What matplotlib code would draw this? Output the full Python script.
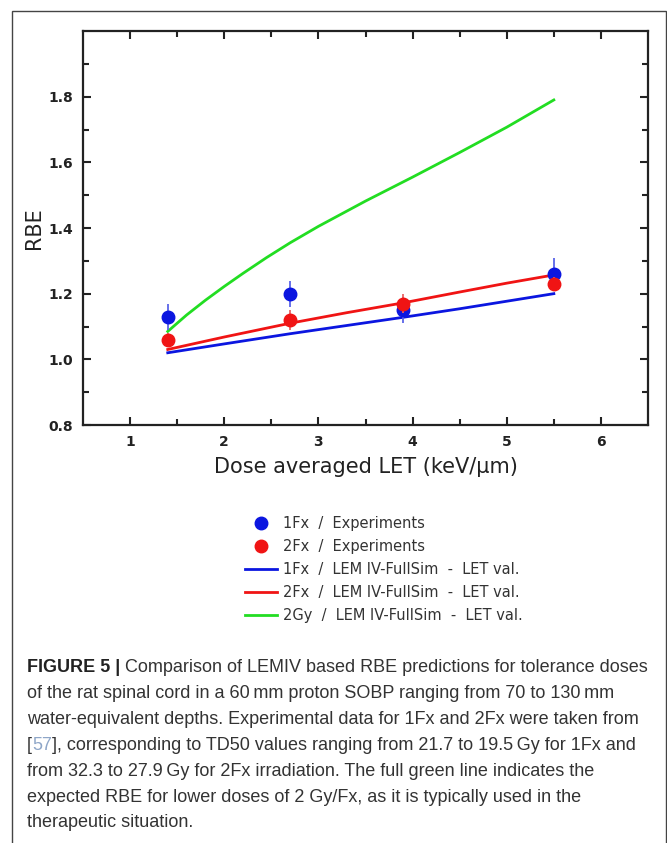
"""Recreate LEM IV RBE vs dose averaged LET figure with caption."""

import matplotlib
matplotlib.use("Agg")
import matplotlib.pyplot as plt
from matplotlib.lines import Line2D
from matplotlib.patches import Rectangle

# experimental points
let_exp = [1.4, 2.7, 3.9, 5.5]
rbe_1fx = [1.13, 1.20, 1.15, 1.26]
err_1fx = [0.04, 0.04, 0.04, 0.05]
rbe_2fx = [1.06, 1.12, 1.17, 1.23]
err_2fx = [0.02, 0.03, 0.03, 0.02]

# model curves (LEM IV-FullSim)
let_model = [1.4, 2.0, 2.7, 3.3, 3.9, 4.5, 5.0, 5.5]
model_1fx = [1.020, 1.047, 1.078, 1.103, 1.128, 1.154, 1.177, 1.200]
model_2fx = [1.030, 1.068, 1.110, 1.142, 1.172, 1.205, 1.232, 1.257]
let_2gy = [1.4, 1.6, 1.8, 2.0, 2.2, 2.45, 2.7, 3.0, 3.5, 4.0, 4.5, 5.0, 5.5]
model_2gy = [1.085, 1.135, 1.180, 1.222, 1.262, 1.310, 1.355, 1.405, 1.482,
             1.555, 1.630, 1.707, 1.790]

labels = [
    "1Fx  /  Experiments",
    "2Fx  /  Experiments",
    "1Fx  /  LEM IV-FullSim  -  LET val.",
    "2Fx  /  LEM IV-FullSim  -  LET val.",
    "2Gy  /  LEM IV-FullSim  -  LET val.",
]

caption = [
    [("FIGURE 5 | ", "bold", "#222222"),
     ("Comparison of LEMIV based RBE predictions for tolerance doses", "normal", "#333333")],
    [("of the rat spinal cord in a 60\u2009mm proton SOBP ranging from 70 to 130\u2009mm", "normal", "#333333")],
    [("water-equivalent depths. Experimental data for 1Fx and 2Fx were taken from", "normal", "#333333")],
    [("[", "normal", "#333333"), ("57", "normal", "#8ea6c8"),
     ("], corresponding to TD50 values ranging from 21.7 to 19.5\u2009Gy for 1Fx and", "normal", "#333333")],
    [("from 32.3 to 27.9\u2009Gy for 2Fx irradiation. The full green line indicates the", "normal", "#333333")],
    [("expected RBE for lower doses of 2 Gy/Fx, as it is typically used in the", "normal", "#333333")],
    [("therapeutic situation.", "normal", "#333333")],
]

BLUE = "#0b16e0"
RED = "#f01414"
GREEN = "#22dd22"

W, H = 667, 843
fig = plt.figure(figsize=(W / 100, H / 100), dpi=100)

# outer frame
fig.patches.append(Rectangle((12 / W, -0.01), 654 / W, 1 - 11 / H + 0.01,
                             transform=fig.transFigure, fill=False,
                             edgecolor="#444444", lw=1.0))

ax = fig.add_axes([83 / W, 1 - 425 / H, (648 - 83) / W, (425 - 31) / H])

ax.errorbar(let_exp, rbe_1fx, yerr=err_1fx, fmt="o", color=BLUE, ms=9,
            elinewidth=1.3, ecolor="#5a64e8", capsize=0, zorder=4)
ax.errorbar(let_exp, rbe_2fx, yerr=err_2fx, fmt="o", color=RED, ms=9,
            elinewidth=1.3, ecolor="#e86464", capsize=0, zorder=5)
ax.plot(let_model, model_1fx, color=BLUE, lw=2.0, zorder=3)
ax.plot(let_model, model_2fx, color=RED, lw=2.0, zorder=3)
ax.plot(let_2gy, model_2gy, color=GREEN, lw=2.0, zorder=3)

ax.set_xlim(0.5, 6.5)
ax.set_ylim(0.8, 2.0)
ax.set_xticks([1, 2, 3, 4, 5, 6])
ax.set_xticks([1.5, 2.5, 3.5, 4.5, 5.5], minor=True)
ax.set_yticks([0.8, 1.0, 1.2, 1.4, 1.6, 1.8])
ax.set_yticklabels(["0.8", "1.0", "1.2", "1.4", "1.6", "1.8"])
ax.set_yticks([0.9, 1.1, 1.3, 1.5, 1.7, 1.9], minor=True)
ax.tick_params(which="both", direction="in", top=True, right=True,
               width=1.5, color="#222222", labelsize=10, pad=7)
ax.tick_params(which="major", length=6)
ax.tick_params(which="minor", length=4)
for lab in ax.get_xticklabels() + ax.get_yticklabels():
    lab.set_fontweight("bold")
    lab.set_color("#222222")
for sp in ax.spines.values():
    sp.set_linewidth(1.6)
    sp.set_color("#222222")

ax.set_xlabel("Dose averaged LET (keV/\u00b5m)", fontsize=15, color="#222222",
              labelpad=6)
ax.set_ylabel("RBE", fontsize=15, color="#222222", labelpad=3)

handles = [
    Line2D([], [], marker="o", ls="none", color=BLUE, ms=9),
    Line2D([], [], marker="o", ls="none", color=RED, ms=9),
    Line2D([], [], color=BLUE, lw=2.0),
    Line2D([], [], color=RED, lw=2.0),
    Line2D([], [], color=GREEN, lw=2.0),
]
fig.legend(handles, labels, loc="upper left", bbox_to_anchor=(232 / W, 1 - 503 / H),
           frameon=False, fontsize=10.5, handlelength=2.2, handletextpad=0.4,
           labelspacing=0.55, labelcolor="#333333")

# caption, drawn segment by segment to mix weights and colours
fig.canvas.draw()
renderer = fig.canvas.get_renderer()
x0 = 27 / W
y = 1 - 668 / H
step = 25.8 / H
for line in caption:
    x = x0
    for text, weight, color in line:
        t = fig.text(x, y, text, fontsize=13, fontweight=weight, color=color,
                     family=["Liberation Sans", "DejaVu Sans"],
                     va="center", ha="left")
        bb = t.get_window_extent(renderer)
        x += bb.width / W
    y -= step

fig.savefig("out.png", dpi=100)
